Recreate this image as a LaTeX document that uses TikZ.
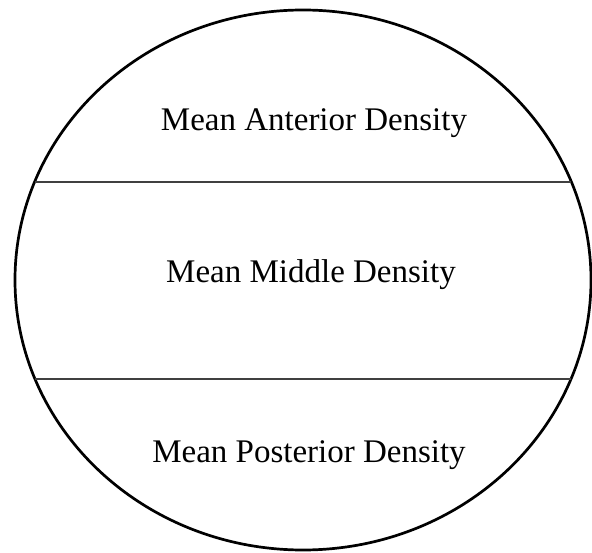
\documentclass[tikz,border=0pt]{standalone}
\usepackage{fontspec}
\setmainfont{Liberation Serif}
\usetikzlibrary{positioning}

\tikzset{
  zone/.style={font=\fontsize{33}{38}\selectfont, inner sep=0pt},
  cut/.style={draw=black!75, line width=1.1pt}
}

\begin{document}
\begin{tikzpicture}[x=1pt,y=-1pt]
		\useasboundingbox (0,0) rectangle (592,553); % page frame
		
		\draw[line width=2.7pt] (303,280) ellipse (288 and 270); % outline
		
		\draw[cut] (35,182) -- (571,182); % upper cut
		\draw[cut] (35,379) -- (571,379); % lower cut
		
		\node[zone] (ant) at (314,123) {Mean Anterior Density}; % top part
		\node[zone] (mid) at (311,275) {Mean Middle Density}; % middle part
		\node[zone] (post) at (309,455) {Mean Posterior Density}; % bottom part
		
\end{tikzpicture}
\end{document}
